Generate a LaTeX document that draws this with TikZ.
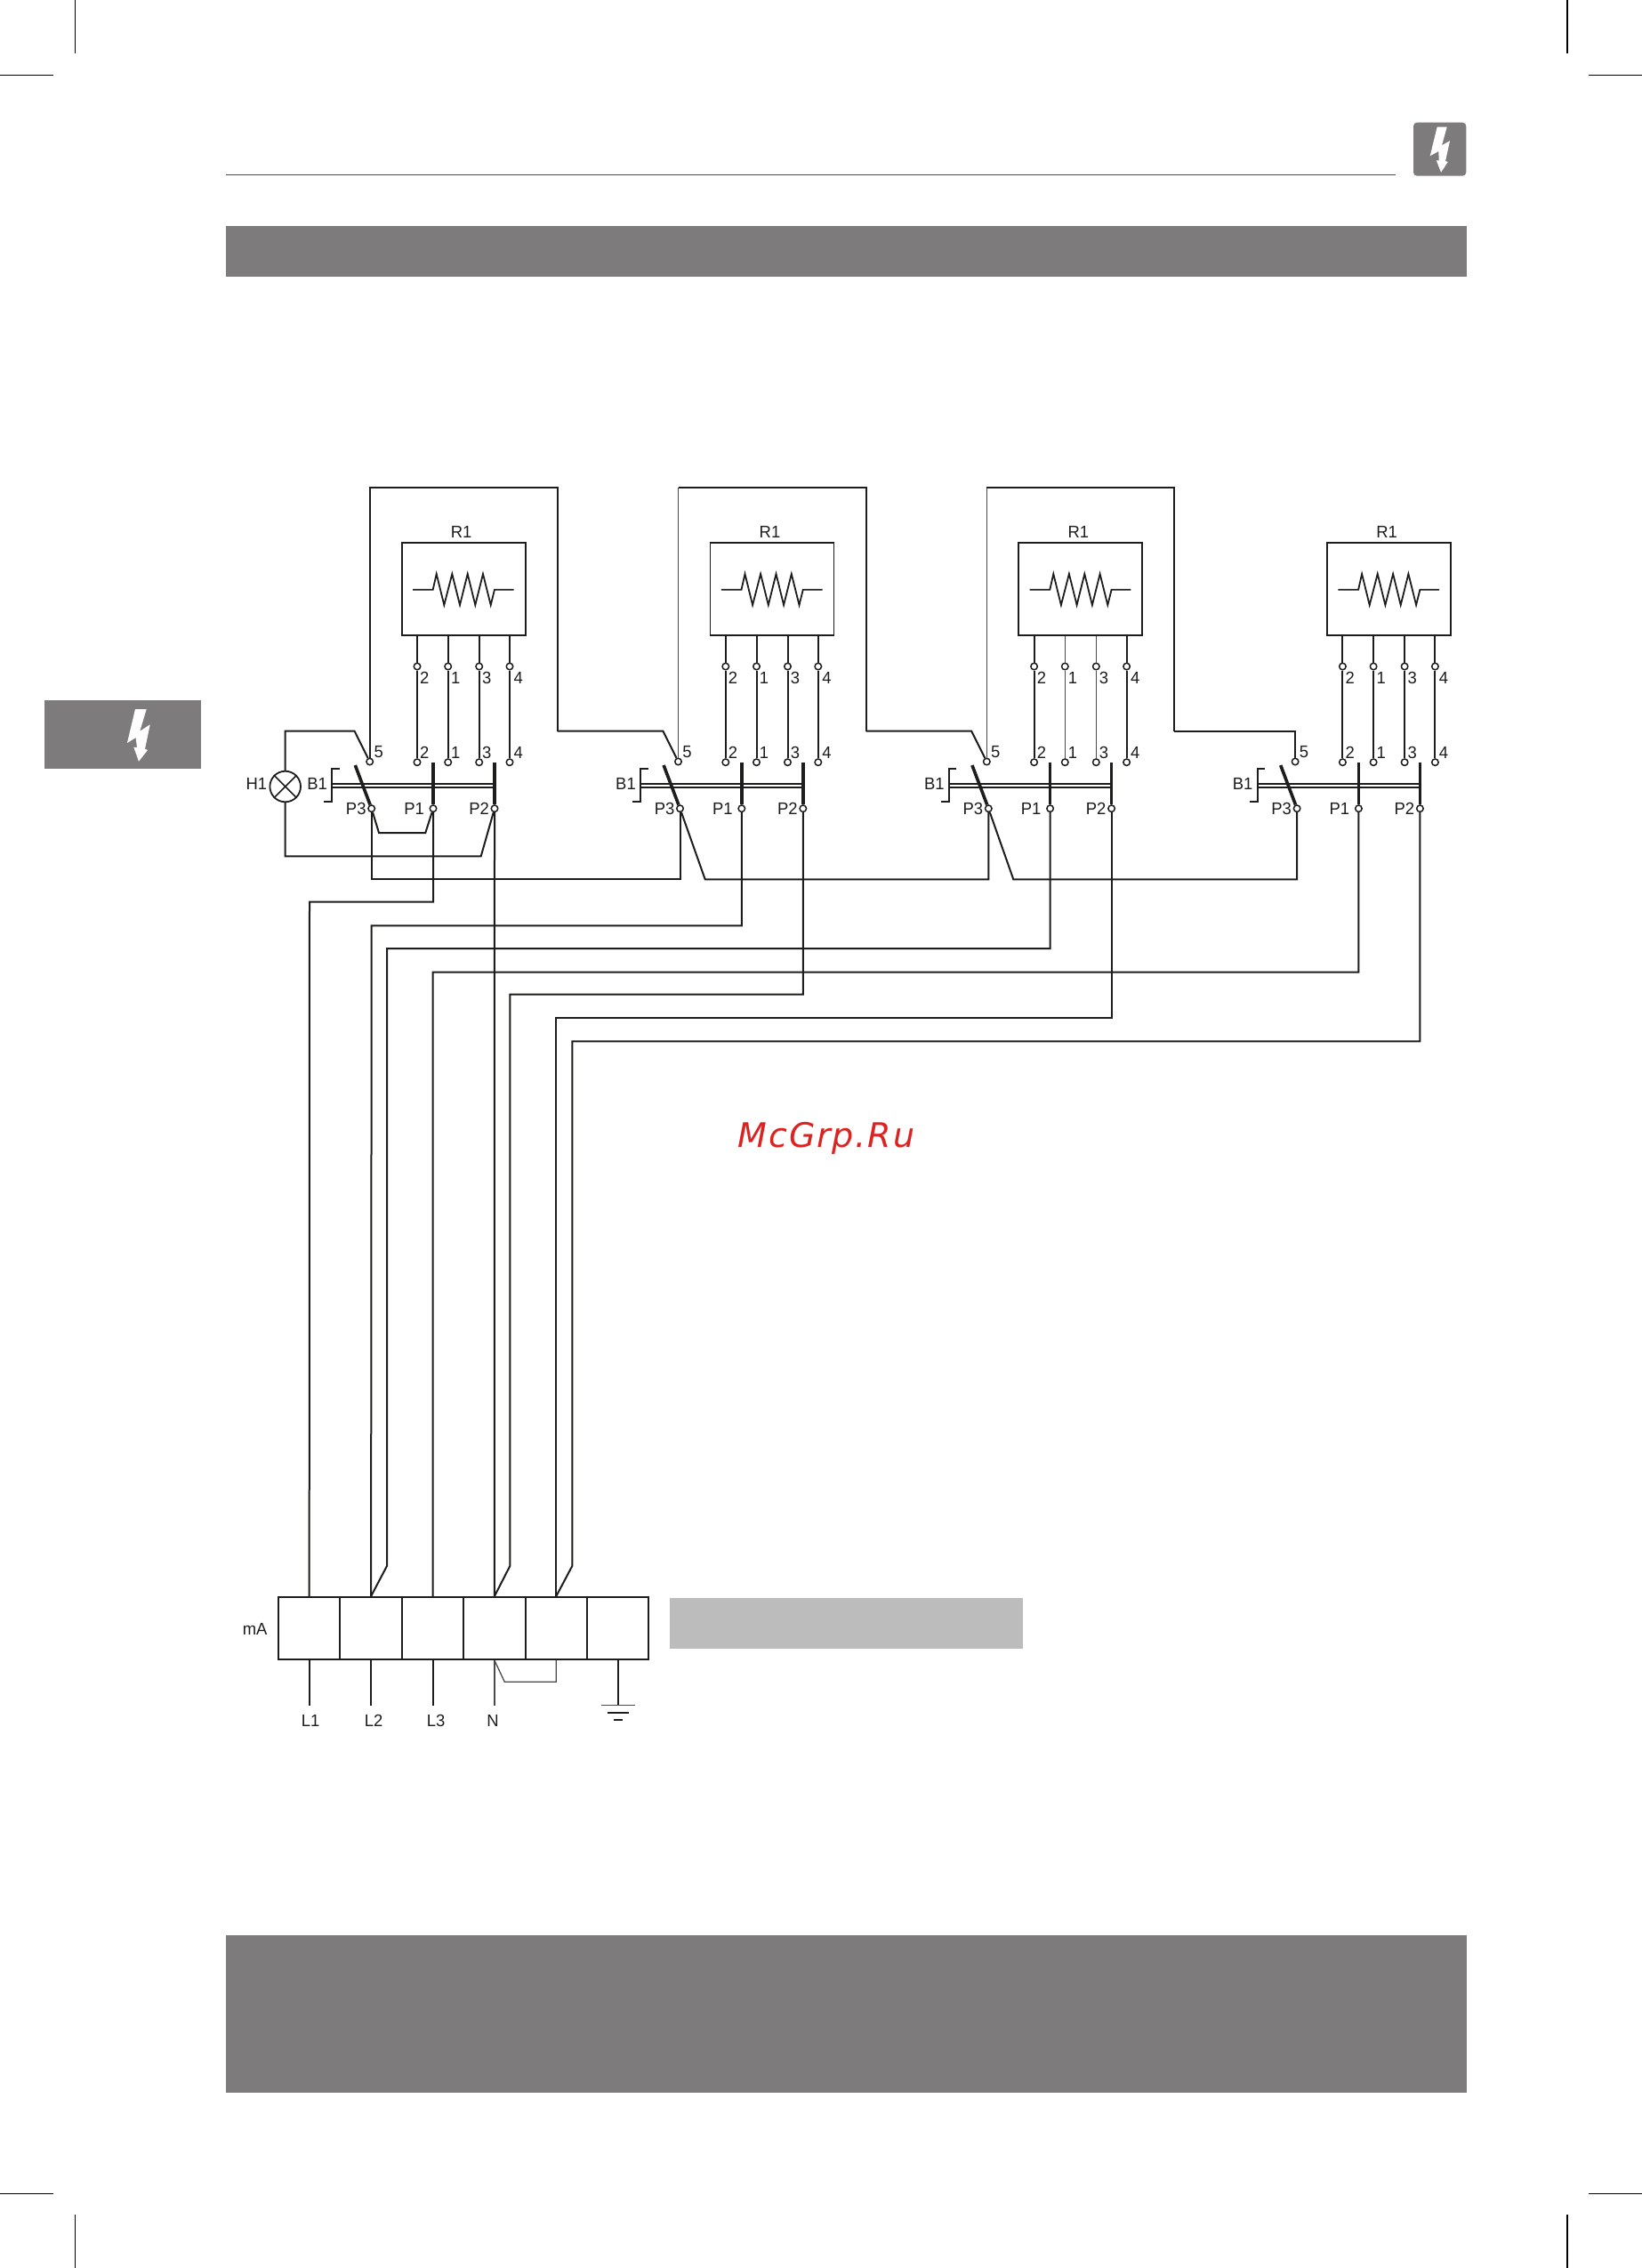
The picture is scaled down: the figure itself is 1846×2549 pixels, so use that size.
\documentclass[tikz,border=0pt]{standalone}
\usepackage{fontspec}
\setmainfont[FakeStretch=0.97]{Liberation Sans}
\newfontfamily\wmfont[LetterSpace=5]{DejaVu Sans}
\definecolor{ink}{HTML}{1D1D1B}
\definecolor{bar}{HTML}{7D7B7C}
\definecolor{lightbar}{HTML}{BCBCBC}
\definecolor{thinink}{HTML}{4A4A4A}
\definecolor{wm}{HTML}{DD2222}
\tikzset{
  wire/.style={draw=ink,line width=2pt,line join=miter},
  thinwire/.style={draw=thinink,line width=1.3pt,line join=miter},
  thickpole/.style={draw=ink,line width=3.6pt},
  term/.style={circle,draw=ink,fill=white,line width=1.5pt,minimum size=7.5pt,inner sep=0pt},
  lbl/.style={font=\fontsize{19}{19}\selectfont,text=ink,inner sep=0pt},
  rbox/.style={rectangle,draw=ink,line width=1.8pt,minimum width=139pt,minimum height=104pt,inner sep=0pt},
  cell/.style={rectangle,draw=ink,line width=2pt,minimum width=69.4pt,minimum height=70pt,inner sep=0pt},
  lamp/.style={circle,draw=ink,line width=1.8pt,minimum size=34.6pt,inner sep=0pt},
  crop/.style={draw=black,line width=1.3pt},
  panel/.style={fill=bar,draw=none}
}
\begin{document}
\begin{tikzpicture}[x=1pt,y=-1pt]
\useasboundingbox (0,0) rectangle (1846,2549);
\fill[white] (0,0) rectangle (1846,2549);
% crop marks
\draw[crop] (84.3,0) -- (84.3,60);
\draw[crop] (1762,0) -- (1762,60);
\draw[crop] (0,84.3) -- (60,84.3);
\draw[crop] (1786,84.3) -- (1846,84.3);
\draw[crop] (0,2465.3) -- (60,2465.3);
\draw[crop] (1786,2465.3) -- (1846,2465.3);
\draw[crop] (84.3,2489) -- (84.3,2549);
\draw[crop] (1762,2489) -- (1762,2549);
% page furniture
\draw[draw=thinink,line width=1.1pt] (253.5,196.7) -- (1569,196.7);
\fill[bar,rounded corners=4pt] (1589,137.7) rectangle (1648.3,197.7);
\fill[white] (1615.7,142.7) -- (1626.7,142.7) -- (1621,163.3) -- (1630,158.3) -- (1625,181) -- (1627.7,182) -- (1620,193.7) -- (1614.7,180) -- (1617.7,180.7) -- (1617.3,170) -- (1607.7,175.3) -- cycle;
\fill[panel] (253.5,253.5) rectangle (1649,311);
\fill[panel] (253.5,2174.5) rectangle (1649,2352);
\fill[panel] (50,787) rectangle (225.7,864);
\fill[white] (152,797) -- (164.7,797) -- (157.3,821.7) -- (168.7,814.3) -- (163,841.7) -- (166,843) -- (156,855.7) -- (150.3,839.7) -- (154,840.3) -- (152.7,829) -- (143,835) -- cycle;
\fill[lightbar] (753,1796) rectangle (1150,1852.7);
% watermark
\node[text=wm,inner sep=0pt,font={\wmfont\itshape\fontsize{38}{38}\selectfont}] (watermark) at (929,1279) {McGrp.Ru};
% switch and resistor units
\foreach \i/\dx in {1/0,2/346.8,3/693.6,4/1040.4}{
\begin{scope}[shift={(\dx,0)}]
  \node[rbox] (u\i R) at (521.2,662.3) {};
  \node[lbl] (u\i Rl) at (518.7,598.3) {R1};
  \draw[wire,line width=1.8pt] (464,662.7) -- (486.7,662.7) -- (490.7,645) -- (499.3,680) -- (508.3,645) -- (517,680) -- (525.7,645) -- (534.3,680) -- (543,645) -- (551.7,680) -- (556,662.7) -- (577.7,662.7);
  % terminals
  \foreach \n/\x/\lx in {2/469/477.3,1/503.7/512.3,3/538.7/547.3,4/573/582.7}{
    \node[term] (u\i r\n) at (\x,749) {};
    \node[term] (u\i s\n) at (\x,856.7) {};
    \node[lbl] (u\i rl\n) at (\lx,761.7) {\n};
    \node[lbl] (u\i sl\n) at (\lx,845.7) {\n};
  }
  \node[term] (u\i s5) at (415.7,856) {};
  \node[lbl] (u\i sl5) at (425.7,845) {5};
  \node[term] (u\i p3) at (417.7,908.7) {};
  \node[term] (u\i p1) at (487,908.7) {};
  \node[term] (u\i p2) at (556,908.7) {};
  \node[lbl,anchor=east] (u\i pl3) at (411.7,908.7) {P3};
  \node[lbl,anchor=east] (u\i pl1) at (477,908.7) {P1};
  \node[lbl,anchor=east] (u\i pl2) at (550,908.7) {P2};
  \node[lbl] (u\i B) at (356.7,881) {B1};
  % switch poles
  \coordinate (u\i t3) at (399.3,860);
  \coordinate (u\i t1) at (487,856.7);
  \coordinate (u\i t2) at (556,856.7);
  \draw[thickpole] (u\i t3) -- (u\i p3);
  \draw[thickpole] (u\i t1) -- (u\i p1);
  \draw[thickpole] (u\i t2) -- (u\i p2);
  % linkage
  \coordinate (u\i la) at (373.3,881);
  \coordinate (u\i lb) at (556,881);
  \coordinate (u\i lc) at (373.3,885);
  \coordinate (u\i ld) at (556,885);
  \draw[wire,line width=1.6pt] (u\i la) -- (u\i lb);
  \draw[wire,line width=1.6pt] (u\i lc) -- (u\i ld);
  \coordinate (u\i ba) at (381.7,863.7);
  \coordinate (u\i bb) at (373.3,863.7);
  \coordinate (u\i bc) at (373.3,900.7);
  \coordinate (u\i bd) at (364.3,900.7);
  \draw[wire] (u\i ba) -- (u\i bb) -- (u\i bc) -- (u\i bd);
  % named bends
  \coordinate (u\i tl) at (415.7,548);
  \coordinate (u\i tr) at (626.7,548);
  \coordinate (u\i br) at (626.7,821.7);
  \coordinate (u\i el) at (398.6,821.7);
\end{scope}
}
% resistor to switch wires
\foreach \i in {1,2,4}{
  \foreach \n in {2,1,3,4}{
    \draw[wire] (u\i r\n |- u\i R.south) -- (u\i r\n);
    \draw[wire] (u\i r\n) -- (u\i s\n);
  }
}
\foreach \n in {2,4}{
  \draw[wire] (u3r\n |- u3R.south) -- (u3r\n);
  \draw[wire] (u3r\n) -- (u3s\n);
}
\foreach \n in {1,3}{
  \draw[thinwire] (u3r\n |- u3R.south) -- (u3r\n);
  \draw[thinwire] (u3r\n) -- (u3s\n);
}
% top loops
\draw[wire] (u1s5) -- (u1tl) -- (u1tr) -- (u1br);
\draw[thinwire] (u2s5) -- (u2tl);
\draw[wire] (u2tl) -- (u2tr) -- (u2br);
\draw[thinwire] (u3s5) -- (u3tl);
\draw[wire] (u3tl) -- (u3tr) -- (u3br);
\draw[wire] (u1br) -- (u2el) -- (u2s5);
\draw[wire] (u2br) -- (u3el) -- (u3s5);
\draw[wire] (u3br) -| (u4s5);
% lamp
\node[lamp] (lamp) at (320.7,884) {};
\node[lbl] (H1) at (288.3,881) {H1};
\draw[draw=ink,line width=1.6pt] (lamp.45) -- (lamp.225);
\draw[draw=ink,line width=1.6pt] (lamp.135) -- (lamp.315);
\coordinate (hTop) at (320.7,821.7);
\coordinate (hBot) at (320.7,962.3);
\coordinate (hBend) at (540.7,962.3);
\draw[wire] (lamp.north) -- (hTop) -- (u1el) -- (u1s5);
\draw[wire] (lamp.south) -- (hBot) -- (hBend) -- (u1p2);
\coordinate (jA) at (426,936);
\coordinate (jB) at (478.3,936);
\draw[wire] (u1p3) -- (jA) -- (jB) -- (u1p1);
% P3 chain
\coordinate (a1) at (417.7,988);
\coordinate (a2) at (764.5,988);
\coordinate (d2) at (792.7,988.3);
\coordinate (e2) at (1111.3,988.3);
\coordinate (d3) at (1139.3,988.3);
\coordinate (e3) at (1458.1,988.3);
\draw[wire] (u1p3) -- (a1) -- (a2) -- (u2p3);
\draw[wire] (u2p3) -- (d2) -- (e2) -- (u3p3);
\draw[wire] (u3p3) -- (d3) -- (e3) -- (u4p3);
% terminal block
\foreach \k/\cx in {1/347.7,2/417.1,3/486.5,4/555.9,5/625.3,6/694.7}{
  \node[cell] (c\k) at (\cx,1830) {};
}
\node[lbl] (mA) at (286.7,1830.7) {mA};
% phase wires
\coordinate (b1) at (348,1013.7);
\coordinate (b2) at (417.7,1040.3);
\coordinate (b3) at (435,1066);
\coordinate (b3k) at (435,1760);
\coordinate (b4) at (486.7,1092.7);
\coordinate (b5) at (573.3,1117.7);
\coordinate (b5k) at (573.3,1760);
\coordinate (b6) at (625.3,1144);
\coordinate (b7) at (643.3,1170.3);
\coordinate (b7k) at (643.3,1760);
\draw[wire] (u1p1) |- (b1) -- (c1.north);
\draw[wire] (u2p1) |- (b2) -- (c2.north);
\draw[wire] (u3p1) |- (b3) -- (b3k) -- (c2.north);
\draw[wire] (u4p1) |- (b4) -- (c3.north);
\draw[wire] (u1p2) -- (c4.north);
\draw[wire] (u2p2) |- (b5) -- (b5k) -- (c4.north);
\draw[wire] (u3p2) |- (b6) -- (c5.north);
\draw[wire] (u4p2) |- (b7) -- (b7k) -- (c5.north);
% supply side
\coordinate (e1) at (347.7,1916.7);
\coordinate (e2b) at (417.1,1916.7);
\coordinate (e3b) at (486.5,1916.7);
\coordinate (e4b) at (555.9,1916.7);
\coordinate (e6b) at (694.7,1916.7);
\draw[wire] (c1.south) -- (e1);
\draw[wire] (c2.south) -- (e2b);
\draw[wire] (c3.south) -- (e3b);
\draw[thinwire] (c4.south) -- (e4b);
\draw[wire] (c6.south) -- (e6b);
\node[lbl] (L1) at (349,1934) {L1};
\node[lbl] (L2) at (420,1934) {L2};
\node[lbl] (L3) at (490,1934) {L3};
\node[lbl] (N) at (554,1934) {N};
\coordinate (jC) at (567.3,1890.3);
\coordinate (jD) at (625.3,1890.3);
\draw[thinwire] (c4.south) -- (jC) -- (jD) -- (c5.south);
% earth
\coordinate (g1a) at (676.3,1916.7);
\coordinate (g1b) at (713.7,1916.7);
\coordinate (g2a) at (683.3,1924.7);
\coordinate (g2b) at (706.7,1924.7);
\coordinate (g3a) at (690,1932.7);
\coordinate (g3b) at (700,1932.7);
\draw[thinwire] (g1a) -- (g1b);
\draw[wire] (g2a) -- (g2b);
\draw[wire] (g3a) -- (g3b);
\end{tikzpicture}
\end{document}
